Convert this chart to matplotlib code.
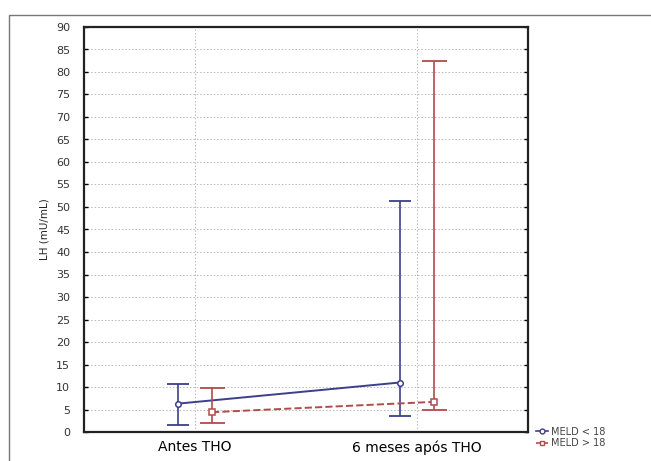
import matplotlib
matplotlib.use("Agg")
import matplotlib.pyplot as plt
from matplotlib.lines import Line2D
from matplotlib.patches import Rectangle
import numpy as np

categories = ["Antes THO", "6 meses após THO"]
series = ["MELD < 18", "MELD > 18"]
means_low = [6.3, 11.0]
upper_low = [10.6, 51.4]
lower_low = [1.5, 3.6]
means_high = [4.4, 6.7]
upper_high = [9.7, 82.4]
lower_high = [1.9, 4.8]

blue = "#3b3f8c"
red = "#b24b4b"

fig = plt.figure(figsize=(6.51, 4.61), dpi=100)
ax = fig.add_axes([84/651, 1 - 432/461, 444/651, 405/461])

x = np.arange(len(categories))
off = 0.077
for xs, m, lo, hi, col, mk, ls, cs in [
    (x - off, means_low, lower_low, upper_low, blue, "o", "-", 8),
    (x + off, means_high, lower_high, upper_high, red, "s", "--", 9),
]:
    m = np.array(m); lo = np.array(lo); hi = np.array(hi)
    ax.errorbar(xs, m, yerr=[m - lo, hi - m], fmt="none", ecolor=col,
                elinewidth=1.2, capsize=cs, capthick=1.3, zorder=3)
    ax.plot(xs, m, ls=ls, color=col, lw=1.4, zorder=3)
    ax.plot(xs, m, ls="none", marker=mk, markersize=4, mfc="white",
            mec=col, mew=1.1, zorder=4)

ax.set_xlim(-0.5, 1.5)
ax.set_ylim(0, 90)
ax.set_yticks(np.arange(0, 91, 5))
ax.set_xticks(x)
ax.set_xticklabels(categories, fontsize=10, family="DejaVu Sans")
ax.tick_params(axis="y", labelsize=8, direction="in", right=True, length=3,
               width=1, pad=10)
ax.tick_params(axis="x", length=0, pad=6)
for lab in ax.get_yticklabels():
    lab.set_color("#333333")
ax.set_ylabel("LH (mU/mL)", fontsize=7.5, labelpad=5, color="#222222")
ax.grid(True, ls=(0, (1.5, 2)), color="#b8b8b8", lw=0.7)
ax.set_axisbelow(True)
for sp in ax.spines.values():
    sp.set_linewidth(1.6)
    sp.set_color("#222222")

handles = [
    Line2D([], [], color=blue, marker="o", mfc="white", mec=blue, ls="-", lw=1.2, markersize=3.5),
    Line2D([], [], color=red, marker="s", mfc="white", mec=red, ls="--", lw=1.2, markersize=3.5),
]
leg = fig.legend(handles, series, loc="lower left", bbox_to_anchor=(536/651, 1 - 448/461),
                 frameon=False, fontsize=7, handlelength=1.2, handletextpad=0.3,
                 labelspacing=0.15, borderaxespad=0, borderpad=0)
for t in leg.get_texts():
    t.set_color("#444444")

fig.patches.append(Rectangle((9/651, -0.1), 1.2, 1 - 15/461 + 0.1,
                             transform=fig.transFigure, fill=False,
                             edgecolor="#777777", lw=1.0))

fig.savefig("out.png", dpi=100)
